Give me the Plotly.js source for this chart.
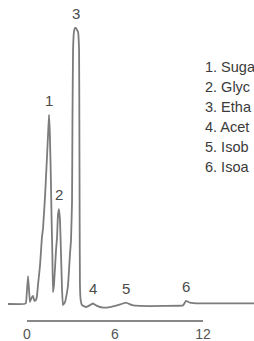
<!DOCTYPE html>
<html>
<head>
<meta charset="utf-8">
<script src="https://cdn.plot.ly/plotly-3.0.1.min.js"></script>
<style>
  html, body { margin: 0; padding: 0; background: #fff; overflow: hidden; }
  #chart { width: 254px; height: 341px; }
</style>
</head>
<body>
<div id="chart"></div>
<script>
// Retention time (min) and detector signal (relative, tallest peak = 100)
const retentionTime = [
  -1.30, -0.20, -0.07, 0.00, 0.07, 0.14, 0.20, 0.31, 0.41, 0.51, 0.61, 0.68, 0.75, 0.89,
  1.02, 1.09, 1.23, 1.36, 1.45, 1.50, 1.55, 1.61, 1.68, 1.73, 1.77, 1.84, 1.98, 2.05,
  2.11, 2.18, 2.25, 2.32, 2.39, 2.45, 2.59, 2.73, 2.80, 2.93, 3.00, 3.07, 3.10, 3.14,
  3.20, 3.27, 3.34, 3.41, 3.48, 3.55, 3.57, 3.59, 3.61, 3.66, 3.75, 4.02, 4.30, 4.50,
  4.77, 5.18, 5.66, 6.20, 6.75, 7.16, 7.70, 9.41, 10.64, 10.84, 11.11, 11.80, 15.48
];
const signal = [
  0.0, 0.0, 0.4, 5.1, 10.1, 5.1, 0.7, 2.2, 2.9, 1.1, 1.4, 2.9, 6.9, 14.1,
  24.3, 27.2, 39.0, 53.0, 63.0, 68.5, 63.0, 50.0, 30.0, 18.0, 4.3, 6.9, 19.6, 24.3,
  32.2, 34.4, 30.4, 17.8, 5.1, -0.4, 0.7, 4.3, 6.9, 18.0, 23.0, 37.0, 66.7, 92.0,
  98.6, 100.0, 100.0, 99.3, 98.6, 92.0, 66.7, 30.4, 6.9, 1.4, -0.4, -1.1, -0.4, 0.2,
  -0.7, -1.3, -1.1, -0.4, 0.5, -0.4, -0.7, -0.7, -0.5, 1.1, 0.5, 0.2, 0.2
];

// Peaks
const peakLabels = ['1', '2', '3', '4', '5', '6'];
const peakTimes = [1.50, 2.18, 3.34, 4.50, 6.75, 10.84];
const peakHeights = [68.5, 34.4, 100.0, 0.2, 0.5, 1.1];

// Compound key (as visible in the cropped reference)
const compounds = ['Suga', 'Glyc', 'Etha', 'Acet', 'Isob', 'Isoa'];

// Time axis ticks
const timeTicks = [0, 6, 12];
const timeTickText = ['0', '6', '12'];

const W = 254, H = 341;
const pxPerMin = 176 / 12;
const x0px = 27;
const baselinePx = 304, topPx = 28;
const pxPerUnit = (baselinePx - topPx) / 100;

const traces = [
  {
    x: [timeTicks[0], timeTicks[timeTicks.length - 1]], y: [0, 0],
    xaxis: 'x2', yaxis: 'y', type: 'scatter', mode: 'lines',
    line: { width: 0, color: 'rgba(0,0,0,0)' }, hoverinfo: 'skip', showlegend: false
  },
  {
    x: retentionTime, y: signal, type: 'scatter', mode: 'lines',
    line: { color: '#7c7c7c', width: 1.8, shape: 'spline', smoothing: 0.25 },
    hoverinfo: 'skip', showlegend: false, cliponaxis: false
  }
];

const annotations = [];
peakLabels.forEach((lab, i) => {
  annotations.push({
    x: peakTimes[i], y: peakHeights[i], xref: 'x', yref: 'y',
    text: lab, showarrow: false, xanchor: 'center', yanchor: 'bottom', yshift: 4,
    font: { family: 'Liberation Sans, Arial, sans-serif', size: 15, color: '#4a4a4a' }
  });
});
compounds.forEach((c, i) => {
  annotations.push({
    x: 203 / W, y: 1 - (67 + 20 * i) / H, xref: 'paper', yref: 'paper',
    text: (i + 1) + '. ' + c, showarrow: false, xanchor: 'left', yanchor: 'middle',
    font: { family: 'Liberation Sans, Arial, sans-serif', size: 14.5, color: '#3a3a3a' }
  });
});

const layout = {
  width: W, height: H,
  margin: { l: 0, r: 0, t: 0, b: 0, pad: 0 },
  paper_bgcolor: '#fff', plot_bgcolor: 'rgba(0,0,0,0)',
  showlegend: false,
  xaxis: {
    domain: [0, 1], range: [-x0px / pxPerMin, (W - x0px) / pxPerMin],
    visible: false, fixedrange: true
  },
  yaxis: {
    domain: [0, 1],
    range: [-(H - baselinePx) / pxPerUnit, 100 + topPx / pxPerUnit],
    visible: false, fixedrange: true
  },
  xaxis2: {
    domain: [x0px / W, (x0px + 176) / W], range: [timeTicks[0], timeTicks[timeTicks.length - 1]],
    anchor: 'free', position: (H - 321) / H,
    showline: true, linecolor: '#888', linewidth: 2,
    ticks: '', showgrid: false, zeroline: false,
    tickvals: timeTicks, ticktext: timeTickText,
    tickfont: { family: 'Liberation Sans, Arial, sans-serif', size: 14, color: '#555' },
    fixedrange: true
  },
  annotations: annotations
};

Plotly.newPlot('chart', traces, layout, { displayModeBar: false, staticPlot: true });
</script>
</body>
</html>
